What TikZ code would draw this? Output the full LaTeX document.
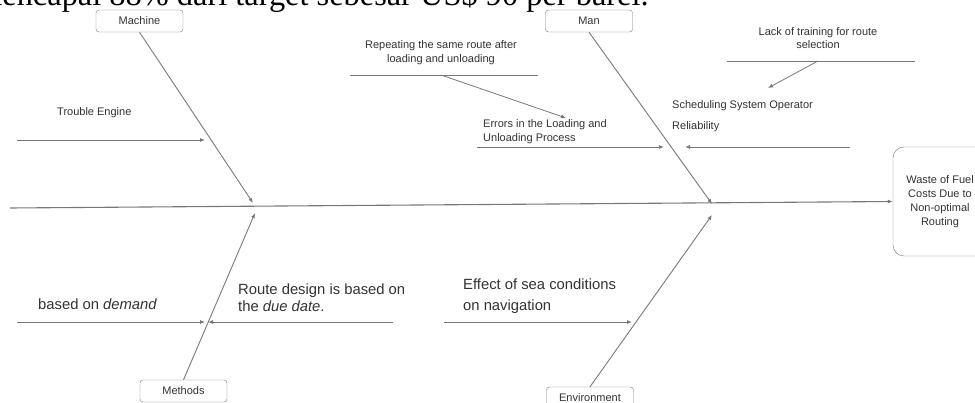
\documentclass[tikz,border=0pt]{standalone}
\usepackage{fontspec}
\setmainfont{Liberation Sans}
\newfontfamily\pagefont{Liberation Serif}
\usepackage{tikz}
\usetikzlibrary{positioning,calc}
\usetikzlibrary{arrows.meta}
\definecolor{BoneGray}{RGB}{120,120,120}
\definecolor{InkGray}{RGB}{50,50,50}
\tikzset{
	cat/.style={draw=BoneGray,rounded corners=3pt,minimum width=87pt,minimum height=22pt,inner sep=0pt,
		font=\fontsize{11}{13}\selectfont,text=InkGray},
	head/.style={draw=BoneGray,rounded corners=11pt,minimum width=94pt,minimum height=109pt,inner sep=0pt,
		align=center,font=\fontsize{11}{14}\selectfont,text=InkGray},
	spine/.style={draw=BoneGray,line width=1.1pt,-{Latex[length=5pt,width=4pt]}},
	bone/.style={draw=BoneGray,line width=0.9pt,-{Latex[length=5pt,width=4pt]}},
	twig/.style={draw=BoneGray,line width=0.8pt},
	small/.style={inner sep=0pt,text=InkGray,font=\fontsize{11}{14}\selectfont},
	big/.style={inner sep=0pt,text=InkGray,font=\fontsize{14.8}{21}\selectfont},
}

\begin{document}
\begin{tikzpicture}[x=1pt,y=-1pt]
					\useasboundingbox (0,0) rectangle (975,403);
					\begin{scope}
						\clip (0,0) rectangle (975,403);
						\node[anchor=base west,inner sep=0pt,font=\pagefont\fontsize{32.4}{32}\selectfont] (page) at (-23,6) {mencapai 88\% dari target sebesar US\$ 90 per barel.};
						% categories and effect
						\node[cat] (machine) at (139.5,21) {Machine};
						\node[cat] (man) at (589,21) {Man};
						\node[cat] (methods) at (183.5,391) {Methods};
						\node[cat] (env) at (590,398) {Environment};
						\node[head] (effect) at (940,201.5) {Waste of Fuel\\Costs Due to\\Non-optimal\\Routing};
					\end{scope}
					% spine and main bones
					\coordinate (tail) at (10,208);
					\coordinate (mtip) at (253,203);
					\coordinate (dtip) at (255,213);
					\coordinate (ntip) at (712,204);
					\coordinate (etip) at (712,215);
					\draw[spine] (tail) -- (effect.west);
					\foreach \a/\b in {machine.south/mtip,methods.north/dtip,man.south/ntip,env.north/etip}
					\draw[bone] (\a) -- (\b);
					% sub-cause arrows
					\coordinate (te1) at (17,140);   \coordinate (te2) at (205,140);
					\coordinate (lu1) at (477,147);  \coordinate (lu2) at (664,147);
					\coordinate (so1) at (850,147);  \coordinate (so2) at (685,147);
					\coordinate (bd1) at (17,322);   \coordinate (bd2) at (205,322);
					\coordinate (dd1) at (393,322);  \coordinate (dd2) at (208,322);
					\coordinate (sc1) at (444,322);  \coordinate (sc2) at (632,322);
					\coordinate (rr1) at (441,75);   \coordinate (rr2) at (566,118);
					\coordinate (lt1) at (818,61);   \coordinate (lt2) at (768,88);
					\foreach \a/\b in {te1/te2,lu1/lu2,so1/so2,bd1/bd2,dd1/dd2,sc1/sc2,rr1/rr2,lt1/lt2}
					\draw[bone,line width=0.8pt] (\a) -- (\b);
					% upper shelves
					\draw[twig] (350,75) -- (538,75);
					\draw[twig] (727,61) -- (915,61);
					% labels
					\node[small,anchor=west] (engine) at (57,113) {Trouble Engine};
					\node[small,align=center] (repeat) at (441,53) {Repeating the same route after\\loading and unloading};
					\node[small,align=left,anchor=west,font=\fontsize{11}{13.5}\selectfont] (errors) at (483,131.5) {Errors in the Loading and\\Unloading Process};
					\node[small,align=center,font=\fontsize{11}{12.5}\selectfont] (training) at (818,38) {Lack of training for route\\selection};
					\node[small,align=left,anchor=west,font=\fontsize{11}{21}\selectfont] (operator) at (672,116.5) {Scheduling System Operator\\Reliability};
					\node[big,anchor=west] (demand) at (38,304) {based on \textit{demand}};
					\node[big,align=left,anchor=west,font=\fontsize{14.8}{17}\selectfont] (duedate) at (238,298) {Route design is based on\\the \textit{due date}.};
					\node[big,align=left,anchor=west] (sea) at (463,296.5) {Effect of sea conditions\\on navigation};
\end{tikzpicture}
\end{document}
